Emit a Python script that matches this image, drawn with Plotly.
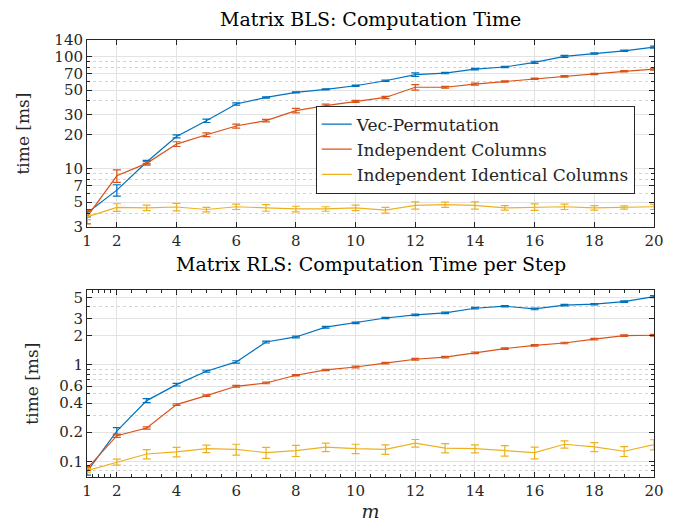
import plotly.graph_objects as go
from plotly.subplots import make_subplots

m = list(range(1, 21))

# Matrix BLS: computation time [ms]
bls_vec = [4.0, 6.4, 11.4, 19.3, 26.6, 37.6, 43.0, 47.7, 50.8, 54.7, 60.6, 68.6, 71.0, 77.0, 80.4, 88.5, 100.0, 106.0, 112.0, 121.0]
bls_vec_err = [0.3, 0.75, 0.4, 0.6, 0.9, 0.9, 0.6, 0.6, 0.6, 0.8, 0.9, 2.5, 1.0, 1.2, 1.0, 2.0, 2.0, 1.5, 1.5, 2.5]
bls_ind = [3.7, 8.6, 11.1, 16.5, 20.0, 23.9, 26.7, 32.8, 36.3, 39.7, 43.0, 53.0, 53.0, 56.6, 59.8, 63.2, 66.4, 69.6, 73.5, 77.0]
bls_ind_err = [0.5, 1.1, 0.4, 0.8, 0.8, 1.0, 0.7, 1.5, 1.2, 0.8, 1.0, 3.0, 1.0, 1.2, 0.8, 0.8, 1.0, 0.8, 1.0, 1.5]
bls_iid = [3.7, 4.49, 4.45, 4.53, 4.3, 4.55, 4.45, 4.35, 4.35, 4.45, 4.25, 4.68, 4.75, 4.68, 4.45, 4.53, 4.55, 4.45, 4.49, 4.55]
bls_iid_err = [0.2, 0.35, 0.25, 0.35, 0.2, 0.25, 0.3, 0.25, 0.2, 0.25, 0.25, 0.35, 0.25, 0.35, 0.2, 0.3, 0.25, 0.2, 0.15, 0.25]

# Matrix RLS: computation time per step [ms]
rls_vec = [0.078, 0.205, 0.425, 0.622, 0.857, 1.07, 1.72, 1.94, 2.45, 2.71, 3.05, 3.28, 3.44, 3.85, 4.04, 3.79, 4.14, 4.24, 4.51, 5.08]
rls_vec_err = [0.006, 0.018, 0.02, 0.02, 0.02, 0.03, 0.04, 0.04, 0.05, 0.05, 0.05, 0.06, 0.06, 0.07, 0.07, 0.08, 0.07, 0.07, 0.08, 0.12]
rls_ind = [0.084, 0.184, 0.221, 0.386, 0.479, 0.598, 0.647, 0.778, 0.883, 0.948, 1.04, 1.14, 1.20, 1.33, 1.47, 1.59, 1.68, 1.84, 2.00, 2.02]
rls_ind_err = [0.004, 0.007, 0.006, 0.008, 0.009, 0.012, 0.012, 0.012, 0.015, 0.02, 0.02, 0.025, 0.02, 0.025, 0.025, 0.03, 0.03, 0.035, 0.035, 0.04]
rls_iid = [0.080, 0.098, 0.119, 0.125, 0.135, 0.133, 0.123, 0.129, 0.140, 0.135, 0.133, 0.154, 0.137, 0.135, 0.129, 0.123, 0.150, 0.141, 0.127, 0.149]
rls_iid_err = [0.004, 0.007, 0.013, 0.014, 0.012, 0.017, 0.016, 0.017, 0.014, 0.015, 0.015, 0.014, 0.015, 0.013, 0.016, 0.017, 0.013, 0.015, 0.015, 0.018]

names = ["Vec-Permutation", "Independent Columns", "Independent Identical Columns"]
colors = ["#0072BD", "#D95319", "#EDB120"]

top_ticks = [3, 5, 7, 10, 20, 30, 50, 70, 100, 140]
bot_ticks = [0.1, 0.2, 0.4, 0.6, 1, 2, 3, 5]
x_ticks = [1, 2, 4, 6, 8, 10, 12, 14, 16, 18, 20]

FONT = "DejaVu Serif"
fig = make_subplots(rows=2, cols=1, vertical_spacing=0.145)

top_series = [(bls_vec, bls_vec_err), (bls_ind, bls_ind_err), (bls_iid, bls_iid_err)]
bot_series = [(rls_vec, rls_vec_err), (rls_ind, rls_ind_err), (rls_iid, rls_iid_err)]

for i, (y, e) in enumerate(top_series):
    fig.add_trace(go.Scatter(x=m, y=y, mode="lines", name=names[i],
                             line=dict(color=colors[i], width=1.2),
                             error_y=dict(type="data", array=e, color=colors[i], thickness=1.2, width=4),
                             showlegend=True), row=1, col=1)
for i, (y, e) in enumerate(bot_series):
    fig.add_trace(go.Scatter(x=m, y=y, mode="lines", name=names[i],
                             line=dict(color=colors[i], width=1.2),
                             error_y=dict(type="data", array=e, color=colors[i], thickness=1.2, width=4),
                             showlegend=False), row=2, col=1)

minor_top = [v * d for d in [1, 10, 100] for v in range(2, 10)]
minor_bot = [v * d for d in [0.01, 0.1, 1] for v in range(2, 10)]
minor_x_bot = [1.2, 1.4, 1.6, 1.8] + [2 + 0.5 * k for k in range(1, 37)]

axis_common = dict(showline=True, linecolor="#262626", linewidth=1, mirror="ticks",
                   ticks="inside", ticklen=5, tickcolor="#262626",
                   showgrid=True, gridcolor="#E3E3E3", gridwidth=1, zeroline=False,
                   tickfont=dict(family=FONT, size=15, color="#262626"))

fig.update_xaxes(range=[1, 20], tickmode="array", tickvals=x_ticks, **axis_common)
fig.update_xaxes(row=2, col=1, minor=dict(tickvals=minor_x_bot, ticks="inside", ticklen=3,
                                           tickcolor="#262626", showgrid=False),
                 title=dict(text="<i>m</i>", font=dict(family=FONT, size=19, color="#262626"), standoff=4))
fig.update_yaxes(type="log", tickmode="array", **axis_common)
fig.update_yaxes(row=1, col=1, range=[0.4771, 2.1461], tickvals=top_ticks,
                 ticktext=[str(v) for v in top_ticks],
                 minor=dict(tickvals=minor_top, ticks="inside", ticklen=3, tickcolor="#262626",
                            showgrid=True, gridcolor="#D3D3D3", griddash="dot", gridwidth=1),
                 title=dict(text="time [ms]", font=dict(family=FONT, size=17, color="#262626"), standoff=20))
fig.update_yaxes(row=2, col=1, range=[-1.163, 0.771], tickvals=bot_ticks,
                 ticktext=[str(v) for v in bot_ticks],
                 minor=dict(tickvals=minor_bot, ticks="inside", ticklen=3, tickcolor="#262626",
                            showgrid=True, gridcolor="#D3D3D3", griddash="dot", gridwidth=1),
                 title=dict(text="time [ms]", font=dict(family=FONT, size=17, color="#262626"), standoff=16))

fig.update_layout(
    width=677, height=527,
    margin=dict(l=79, r=31, t=32, b=58),
    plot_bgcolor="white", paper_bgcolor="white",
    font=dict(family=FONT, color="#262626"),
    legend=dict(x=0.966, y=0.85, xanchor="right", yanchor="top",
                bgcolor="white", bordercolor="#262626", borderwidth=1,
                font=dict(family=FONT, size=17, color="#262626"),
                tracegroupgap=0),
    annotations=[
        dict(text="Matrix BLS: Computation Time", x=0.5, y=1.0, xref="paper", yref="paper",
             xanchor="center", yanchor="middle", yshift=21, showarrow=False,
             font=dict(family=FONT, size=19, color="#000000")),
        dict(text="Matrix RLS: Computation Time per Step", x=0.5, y=0.4272, xref="paper", yref="paper",
             xanchor="center", yanchor="middle", yshift=26, showarrow=False,
             font=dict(family=FONT, size=19, color="#000000")),
    ],
)
fig.update_yaxes(row=1, col=1, domain=[0.572, 1.0])
fig.update_yaxes(row=2, col=1, domain=[0.0, 0.4272])

fig.write_html("out.html")
